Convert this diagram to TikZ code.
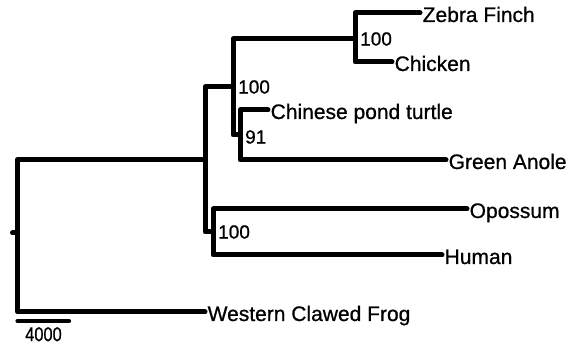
\documentclass[tikz,border=0pt]{standalone}
\usepackage{fontspec}
\setmainfont{Liberation Sans}[RawFeature={embolden=0.8}]
\begin{document}
\begin{tikzpicture}[x=1pt,y=-1pt,
  branch/.style={line width=5pt,line cap=round,line join=round},
  leaf/.style={anchor=base west,inner sep=0pt,xshift=2.5pt,yshift=-9pt,font=\fontsize{21}{21}\selectfont},
  support/.style={anchor=west,inner sep=0pt,xshift=5pt,font=\fontsize{19}{19}\selectfont}]
\useasboundingbox (0,0) rectangle (574,347);
% internal nodes
\coordinate (root) at (17.5,233);
\coordinate (amn) at (205,159.5);
\coordinate (saur) at (233,87);
\coordinate (birds) at (355,39);
\coordinate (ta) at (240,135);
\coordinate (mam) at (213,232);
% tips
\coordinate (tzf) at (420,13);
\coordinate (tch) at (392,62);
\coordinate (ttu) at (268,110);
\coordinate (tan) at (446,160);
\coordinate (top) at (467,209);
\coordinate (thu) at (442,255);
\coordinate (tfr) at (205,312);
% branches
\draw[branch] (root) -- ++(-5,0);
\draw[branch] (root) |- (amn);
\draw[branch] (root) |- (tfr);
\draw[branch] (amn) |- (saur);
\draw[branch] (amn) |- (mam);
\draw[branch] (saur) |- (birds);
\draw[branch] (saur) |- (ta);
\draw[branch] (birds) |- (tzf);
\draw[branch] (birds) |- (tch);
\draw[branch] (ta) |- (ttu);
\draw[branch] (ta) |- (tan);
\draw[branch] (mam) |- (top);
\draw[branch] (mam) |- (thu);
% leaf labels
\node[leaf] (lzf) at (tzf) {Zebra Finch};
\node[leaf] (lch) at (tch) {Chicken};
\node[leaf] (ltu) at (ttu) {Chinese pond turtle};
\node[leaf] (lan) at (tan) {Green Anole};
\node[leaf] (lop) at (top) {Opossum};
\node[leaf] (lhu) at (thu) {Human};
\node[leaf] (lfr) at (tfr) {Western Clawed Frog};
% support values
\node[support] (sbirds) at (birds) {100};
\node[support] (ssaur) at (saur) {100};
\node[support,yshift=-2pt] (sta) at (ta) {91};
\node[support] (smam) at (mam) {100};
% scale bar
\coordinate (sb1) at (17.5,321);
\coordinate (sb2) at (69,321);
\draw[line width=4.2pt,line cap=round] (sb1) -- (sb2);
\node[inner sep=0pt,anchor=north,xscale=0.82,font=\fontsize{20}{20}\selectfont] (sbl) at (43.5,327) {4000};
\end{tikzpicture}
\end{document}
